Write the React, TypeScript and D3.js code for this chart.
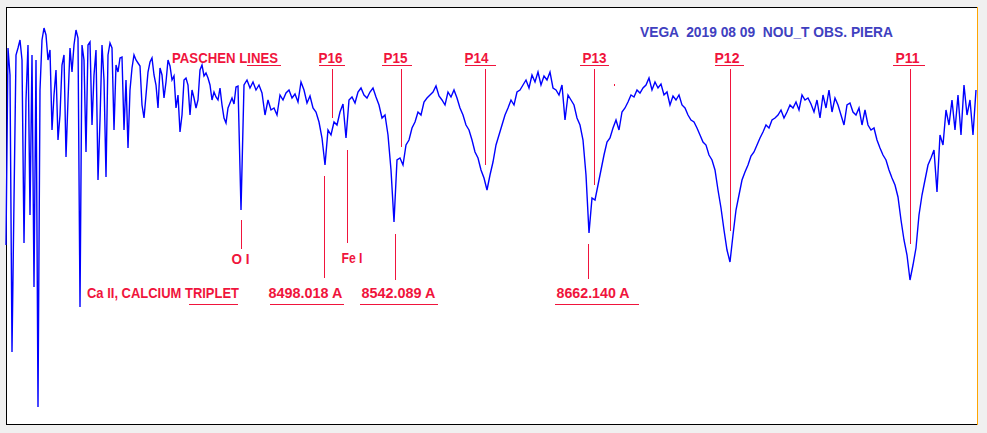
import React from "react";
import * as d3 from "d3";

// Spectrum, blue part (dense telluric region): wavelength grid start/step (Angstrom) + flux (ADU)
const WAVE_A_START = 8300;
const WAVE_A_STEP = 1.2441;
const FLUX_A = [
  179, 376, 349, 72, 224, 369, 376, 384, 364, 181, 324, 379, 209, 369, 137, 364, 17, 334, 384, 396,
  389, 364, 374, 294, 329, 354, 284, 309, 359, 369, 267, 324, 376, 352, 379, 394, 386, 117, 379, 364,
  272, 379, 382, 299, 349, 374, 244, 304, 379, 344, 247, 369, 381, 376, 294, 359, 352, 366, 367, 294,
  344, 276, 334, 356, 369, 364, 361, 358, 319, 306, 329, 352, 362, 366, 349, 339, 316, 356, 349, 326,
  342, 364, 358, 344, 348, 316, 329, 292, 309, 344, 346, 339, 309, 334, 326, 316, 324, 354, 359, 348,
  351, 346, 339, 324, 332, 327, 324, 336, 319, 306, 301, 316, 321, 326, 320, 337, 338,
];

// Spectrum, red part (Ca II triplet + Paschen lines)
const WAVE_B_START = 8446.18;
const WAVE_B_STEP = 1.8661;
const FLUX_B = [
  214, 339, 344, 336, 342, 334, 339, 331, 309, 324, 314, 316, 309, 329, 324, 331, 334, 326, 330, 322,
  342, 334, 321, 328, 316, 312, 302, 286, 259, 294, 289, 302, 299, 312, 320, 286, 324, 327, 321, 332,
  336, 329, 326, 332, 336, 327, 319, 306, 309, 289, 254, 202, 264, 266, 259, 279, 284, 296, 302, 312,
  309, 322, 326, 329, 332, 338, 328, 324, 319, 332, 327, 334, 326, 316, 309, 299, 294, 284, 272, 266,
  254, 246, 234, 249, 262, 279, 289, 299, 309, 316, 324, 319, 332, 334, 339, 344, 336, 349, 342, 352,
  339, 348, 344, 352, 336, 334, 329, 339, 304, 329, 324, 319, 306, 299, 284, 249, 191, 226, 224, 239,
  254, 269, 282, 286, 296, 304, 294, 312, 316, 322, 329, 327, 334, 331, 336, 339, 346, 334, 342, 336,
  340, 329, 332, 319, 328, 324, 329, 319, 316, 309, 304, 302, 296, 289, 282, 279, 269, 264, 254, 234,
  216, 194, 174, 162, 189, 214, 229, 244, 252, 259, 268, 272, 279, 286, 292, 299, 296, 304, 306, 309,
  314, 306, 312, 319, 316, 322, 314, 329, 324, 326, 320, 312, 324, 306, 329, 316, 334, 312, 326, 319,
  309, 299, 319, 321, 312, 309, 316, 299, 314, 299, 294, 296, 284, 276, 269, 264, 254, 246, 239, 227,
  204, 184, 169, 144, 159, 176, 209, 229, 244, 259, 266, 274, 232, 289, 279, 314, 299, 324, 294, 329,
  289, 339, 309, 324, 289, 334,
];

const WAVE_MIN = 8300;
const WAVE_MAX = 8904;
const FLUX_MAX = 417;

const PASCHEN_NAMES = ["P16", "P15", "P14", "P13", "P12", "P11"];
const PASCHEN_WAVES = [8502.8, 8545.7, 8598.0, 8665.8, 8750.4, 8862.3];
const PASCHEN_TIPS = [306, 277, 259, 239, 193, 180];

const CA_LABELS = ["8498.018 A", "8542.089 A", "8662.140 A"];
const CA_WAVES = [8498.018, 8542.089, 8662.14];
const CA_TIPS = [248, 190, 180];

const OTHER_LABELS = ["O I", "Fe I"];
const OTHER_WAVES = [8446.4, 8512.3];
const OTHER_TIPS = [204, 274];

const TITLE = "VEGA  2019 08 09  NOU_T OBS. PIERA";

const RED = "#f0143c";
const FONT = "'Liberation Sans', Arial, sans-serif";

export default function App() {
  const W = 987;
  const H = 433;
  const left = 6, right = 977, top = 7, bottom = 424;
  const x = d3.scaleLinear().domain([WAVE_MIN, WAVE_MAX]).range([left, right]);
  const y = d3.scaleLinear().domain([0, FLUX_MAX]).range([bottom, top]);

  const pts: [number, number][] = [
    ...FLUX_A.map((f, i) => [WAVE_A_START + i * WAVE_A_STEP, f] as [number, number]),
    ...FLUX_B.map((f, i) => [WAVE_B_START + i * WAVE_B_STEP, f] as [number, number]),
  ];
  const line = d3
    .line<[number, number]>()
    .x((d) => x(d[0]))
    .y((d) => y(d[1]));

  // layout (pixels) for label text & underline relative to marker
  const pLayout = [
    { t: -14, u0: -14, u1: 12, w: 24 },
    { t: -18, u0: -20, u1: 10, w: 24 },
    { t: -21, u0: -21, u1: 10, w: 24 },
    { t: -12, u0: -15, u1: 14, w: 24 },
    { t: -16, u0: -16, u1: 13, w: 25 },
    { t: -15, u0: -18, u1: 14, w: 24 },
  ];
  const caLayout = [
    { t: -56, u0: -55, u1: 19, topY: 278, w: 74 },
    { t: -34, u0: -36, u1: 42, topY: 280, w: 74 },
    { t: -32, u0: -34, u1: 50, topY: 279, w: 73 },
  ];
  const otherLayout = [
    { t: -10, bot: 249, ty: 264, w: 18 },
    { t: -6, bot: 243, ty: 263, w: 21 },
  ];
  const FS = 14;

  return (
    <svg
      width={W}
      height={H}
      style={{ position: "absolute", left: 0, top: 0, display: "block" }}
      shapeRendering="crispEdges"
    >
      <rect x={0} y={0} width={W} height={H} fill="#f0f0f0" />
      <rect x={left} y={top} width={right - left} height={bottom - top} fill="#ffffff" />
      <line x1={left} x2={right + 1} y1={top + 0.5} y2={top + 0.5} stroke="#000" />
      <line x1={left} x2={right + 1} y1={bottom + 0.5} y2={bottom + 0.5} stroke="#000" />
      <line x1={left + 0.5} x2={left + 0.5} y1={top} y2={bottom} stroke="#000" />
      <line x1={right + 0.5} x2={right + 0.5} y1={top} y2={bottom + 1} stroke="#ffa500" />

      <text x={640} y={37} fill="#4040c0" fontFamily={FONT} fontWeight="bold" fontSize={FS}
        textLength={253} lengthAdjust="spacingAndGlyphs" style={{ whiteSpace: "pre" }}>
        {TITLE}
      </text>

      {/* Paschen header */}
      <text x={172} y={63} fill={RED} fontFamily={FONT} fontWeight="bold" fontSize={FS}
        textLength={106} lengthAdjust="spacingAndGlyphs">
        PASCHEN LINES
      </text>
      <line x1={247} x2={281} y1={65.5} y2={65.5} stroke={RED} />

      {PASCHEN_NAMES.map((n, i) => {
        const px = Math.round(x(PASCHEN_WAVES[i])) + 0.5;
        const L = pLayout[i];
        return (
          <g key={n}>
            <text x={px + L.t} y={63} fill={RED} fontFamily={FONT} fontWeight="bold" fontSize={FS}
              textLength={L.w} lengthAdjust="spacingAndGlyphs">
              {n}
            </text>
            <line x1={px + L.u0} x2={px + L.u1} y1={65.5} y2={65.5} stroke={RED} />
            <line x1={px} x2={px} y1={69} y2={y(PASCHEN_TIPS[i])} stroke={RED} />
          </g>
        );
      })}

      <rect x={614} y={84} width={1} height={2} fill={RED} />

      {/* Ca II triplet */}
      <text x={87} y={298} fill={RED} fontFamily={FONT} fontWeight="bold" fontSize={FS}
        textLength={152} lengthAdjust="spacingAndGlyphs">
        Ca II, CALCIUM TRIPLET
      </text>
      <line x1={189} x2={238} y1={304.5} y2={304.5} stroke={RED} />
      {CA_LABELS.map((lab, i) => {
        const px = Math.round(x(CA_WAVES[i])) + 0.5;
        const L = caLayout[i];
        return (
          <g key={lab}>
            <line x1={px} x2={px} y1={y(CA_TIPS[i])} y2={L.topY} stroke={RED} />
            <text x={px + L.t} y={298} fill={RED} fontFamily={FONT} fontWeight="bold" fontSize={FS}
              textLength={L.w} lengthAdjust="spacingAndGlyphs">
              {lab}
            </text>
            <line x1={px + L.u0} x2={px + L.u1} y1={304.5} y2={304.5} stroke={RED} />
          </g>
        );
      })}

      {OTHER_LABELS.map((lab, i) => {
        const px = Math.round(x(OTHER_WAVES[i])) + 0.5;
        const L = otherLayout[i];
        return (
          <g key={lab}>
            <line x1={px} x2={px} y1={y(OTHER_TIPS[i])} y2={L.bot} stroke={RED} />
            <text x={px + L.t} y={L.ty} fill={RED} fontFamily={FONT} fontWeight="bold" fontSize={FS}
              textLength={L.w} lengthAdjust="spacingAndGlyphs">
              {lab}
            </text>
          </g>
        );
      })}

      <path d={line(pts) || ""} fill="none" stroke="#0000ff" strokeWidth={1.4}
        shapeRendering="auto" strokeLinejoin="miter" />
    </svg>
  );
}
